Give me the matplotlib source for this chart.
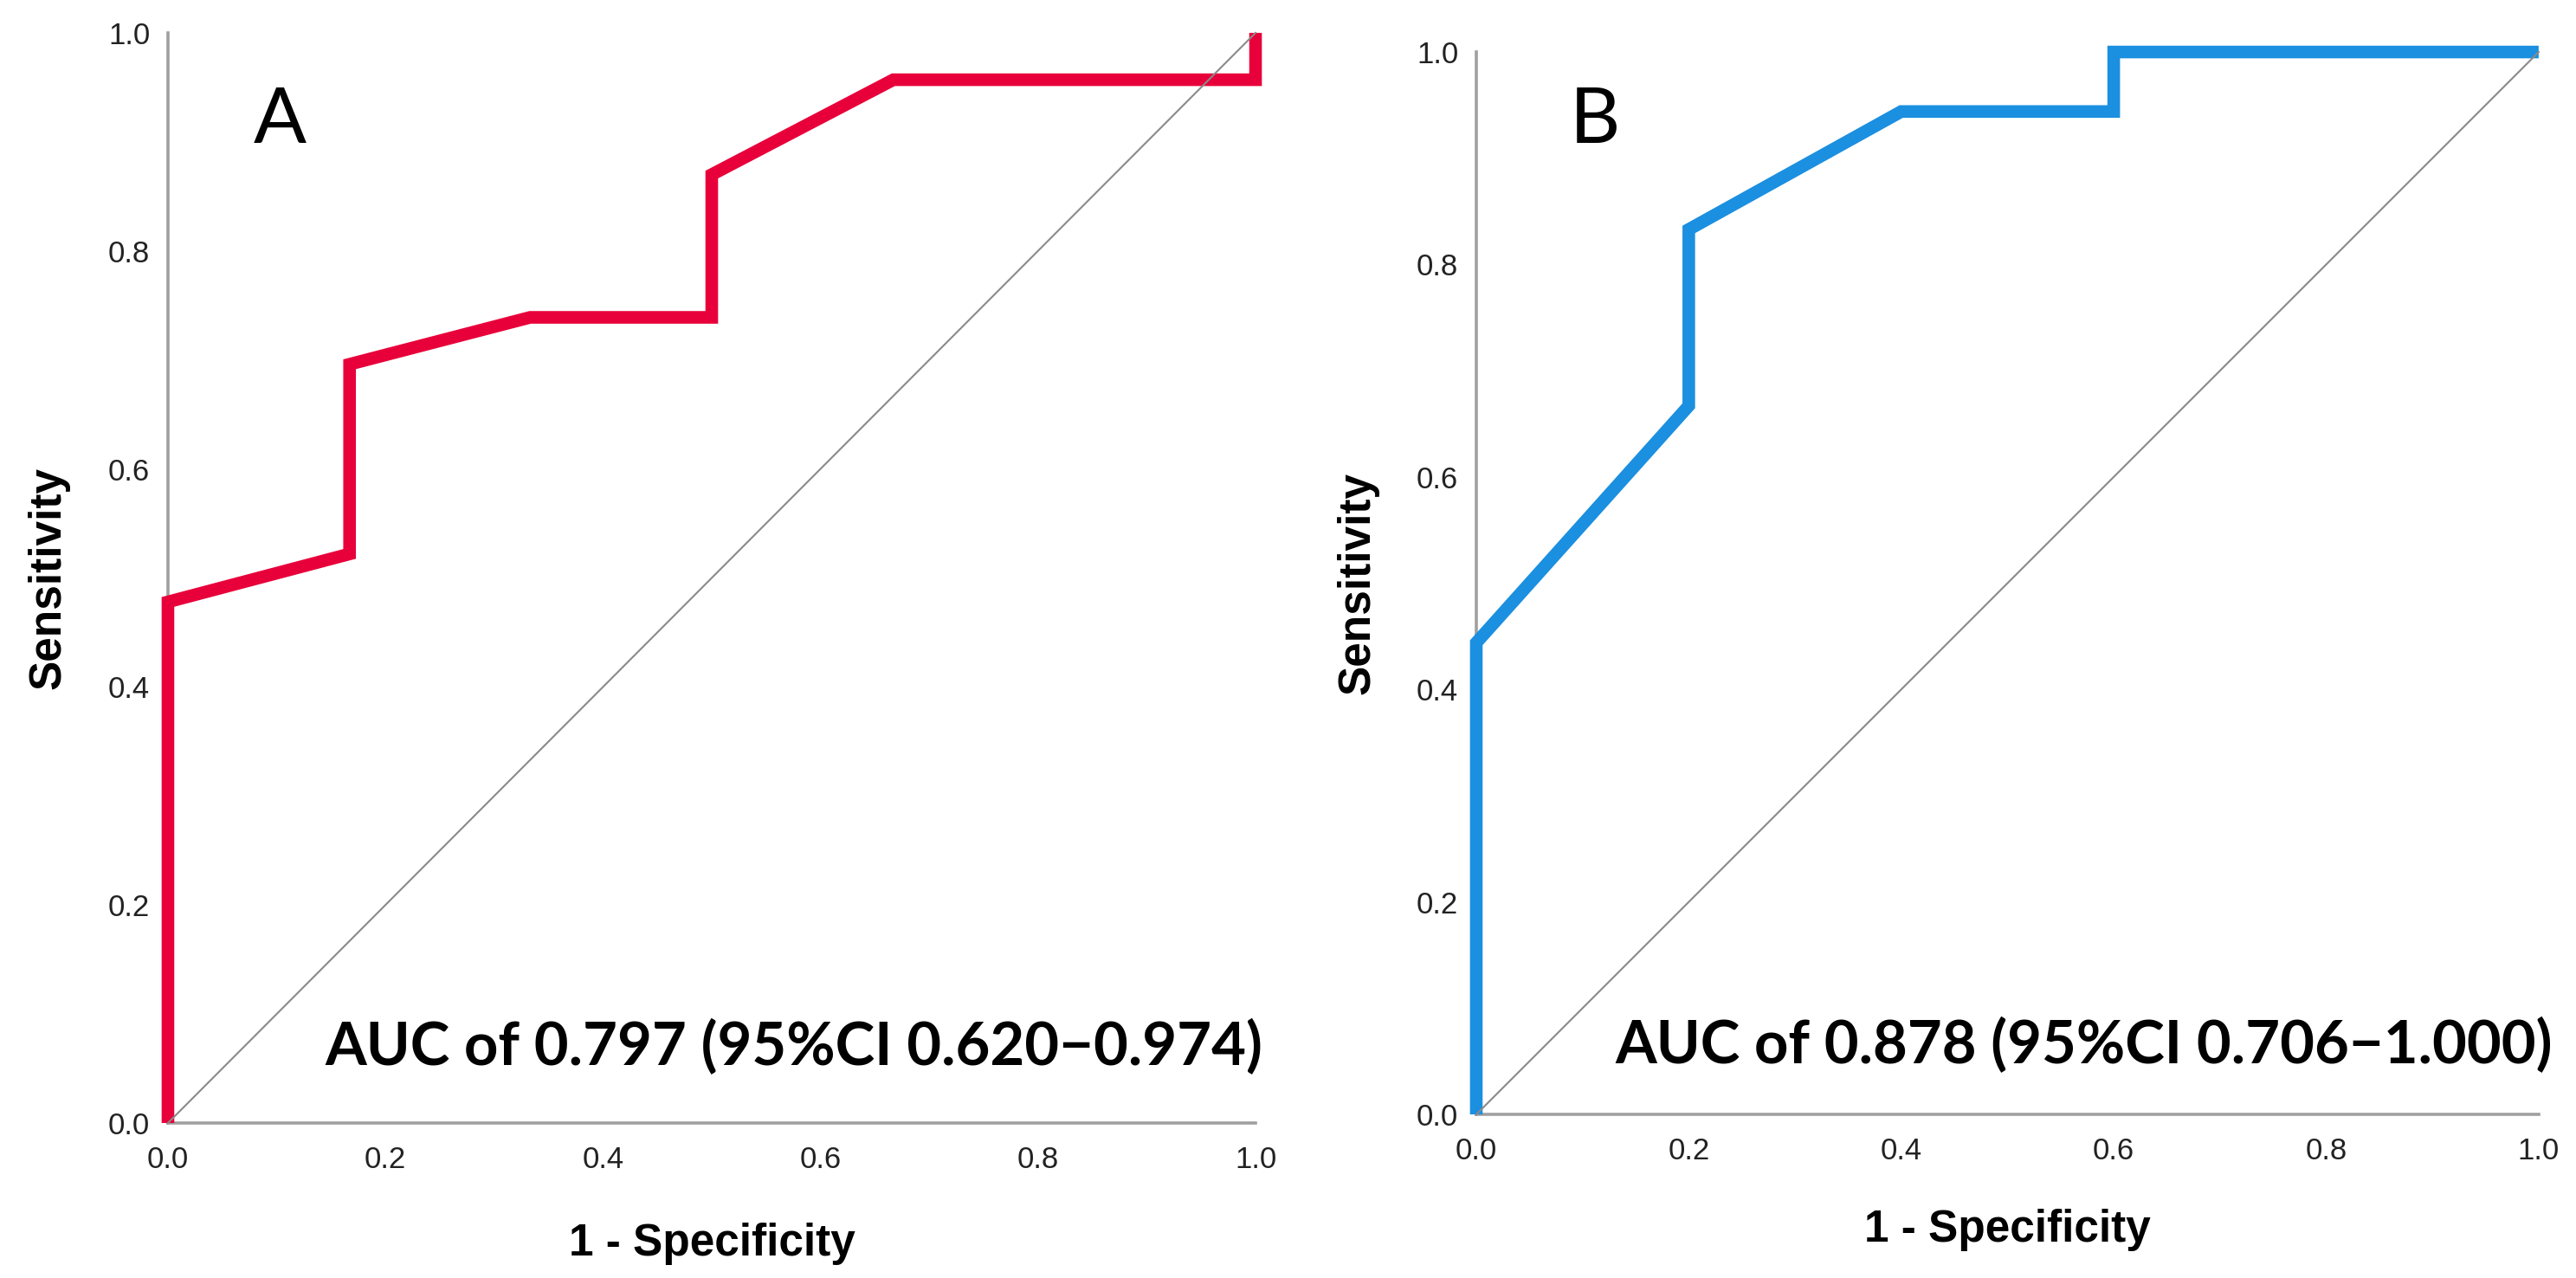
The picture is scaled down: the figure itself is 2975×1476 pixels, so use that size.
import matplotlib.pyplot as plt

# ROC curve A (1 - specificity, sensitivity)
fpr_a = [0.0, 0.0, 0.167, 0.167, 0.333, 0.5, 0.5, 0.667, 1.0, 1.0]
tpr_a = [0.0, 0.478, 0.522, 0.696, 0.739, 0.739, 0.870, 0.957, 0.957, 1.0]
auc_a = "AUC of 0.797 (95%CI 0.620\u22120.974)"

# ROC curve B
fpr_b = [0.0, 0.0, 0.2, 0.2, 0.4, 0.6, 0.6, 1.0]
tpr_b = [0.0, 0.444, 0.667, 0.833, 0.944, 0.944, 1.0, 1.0]
auc_b = "AUC of 0.878 (95%CI 0.706\u22121.000)"

ticks = [0.0, 0.2, 0.4, 0.6, 0.8, 1.0]
tick_labels = ["0.0", "0.2", "0.4", "0.6", "0.8", "1.0"]

fig = plt.figure(figsize=(29.75, 14.76), dpi=100)
ax_a = fig.add_axes([0.0652, 0.1213, 0.4222, 0.853])
ax_b = fig.add_axes([0.5731, 0.1280, 0.4124, 0.8313])


def draw_panel(ax, fpr, tpr, color, letter, auc_text, letter_pos, auc_pos, xlab_y, ylab_x):
    # curve sits above the spines, reference diagonal above the curve
    ax.plot(fpr, tpr, color=color, lw=10.5, clip_on=False,
            solid_joinstyle="miter", solid_capstyle="butt", zorder=3)
    ax.plot([0, 1], [0, 1], color="#8a8a8a", lw=1.5, clip_on=False, zorder=4)
    ax.set_xlim(0, 1)
    ax.set_ylim(0, 1)
    for s in ["top", "right"]:
        ax.spines[s].set_visible(False)
    for s in ["left", "bottom"]:
        ax.spines[s].set_color("#a0a0a0")
        ax.spines[s].set_linewidth(2.6)
    ax.set_xticks(ticks)
    ax.set_xticklabels(tick_labels)
    ax.set_yticks(ticks)
    ax.set_yticklabels(tick_labels)
    ax.tick_params(axis="both", length=0, labelsize=25, labelcolor="#222222")
    ax.tick_params(axis="x", pad=19)
    ax.tick_params(axis="y", pad=15)
    for lab in ax.get_xticklabels() + ax.get_yticklabels():
        lab.set_family("Liberation Sans")
    ax.set_xlabel("1 - Specificity", family="Liberation Sans", fontweight="bold",
                  fontsize=37, va="top")
    ax.set_ylabel("Sensitivity", family="Liberation Sans", fontweight="bold",
                  fontsize=37, va="center")
    ax.xaxis.set_label_coords(0.5, xlab_y)
    ax.yaxis.set_label_coords(ylab_x, 0.5)
    ax.text(letter_pos[0], letter_pos[1], letter, transform=ax.transAxes,
            family="Lato", fontsize=65, ha="left", va="baseline")
    ax.text(auc_pos[0], auc_pos[1], auc_text, transform=ax.transAxes,
            family="Lato", fontweight="bold", fontsize=49.5, ha="right", va="baseline")


draw_panel(ax_a, fpr_a, tpr_a, "#e8003a", "A", auc_a,
           (0.0788, 0.899), (1.0064, 0.0532), -0.0913, -0.11)
draw_panel(ax_b, fpr_b, tpr_b, "#1b8fe0", "B", auc_b,
           (0.088, 0.9144), (1.013, 0.048), -0.089, -0.112)

fig.savefig("out.png", dpi=100, facecolor="white")
